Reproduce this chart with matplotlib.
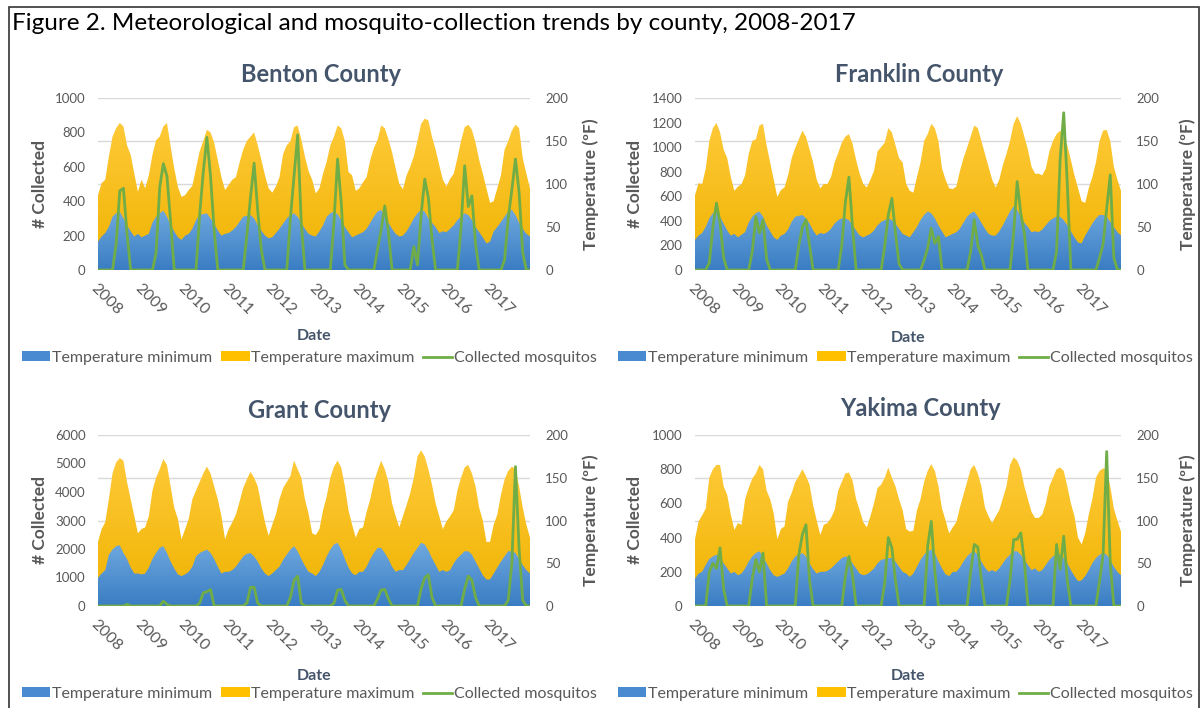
import numpy as np
import matplotlib
matplotlib.use('Agg')
import matplotlib.pyplot as plt
from matplotlib.colors import LinearSegmentedColormap
from matplotlib.patches import Patch, Rectangle
from matplotlib.lines import Line2D

plt.rcParams['font.family'] = ['Lato', 'DejaVu Sans']

years = list(range(2008, 2018))
year_labels = [str(y) for y in years]

# monthly values, Jan..Dec for 2008..2017 (temperatures on the right axis, counts on the left)
benton_tmin = [33, 39, 43, 50, 62, 66, 68, 60, 52, 45, 39, 42,
               38, 40, 42, 55, 62, 66, 69, 62, 52, 45, 38, 35,
               40, 42, 48, 58, 64, 65, 66, 60, 54, 46, 40, 42,
               43, 46, 50, 56, 62, 63, 64, 60, 52, 46, 40, 37,
               38, 43, 48, 54, 60, 64, 66, 62, 55, 48, 42, 40,
               39, 45, 52, 62, 66, 68, 65, 58, 50, 44, 38, 40,
               42, 44, 48, 55, 62, 68, 70, 62, 55, 48, 42, 39,
               40, 45, 52, 60, 66, 70, 68, 60, 55, 50, 43, 45,
               44, 48, 52, 58, 62, 66, 64, 58, 50, 44, 38, 31,
               33, 45, 50, 56, 62, 68, 70, 64, 55, 48, 42, 39]
benton_tmax = [87, 101, 105, 132, 155, 165, 171, 167, 145, 134, 112, 91,
               105, 95, 110, 134, 151, 155, 167, 171, 144, 118, 97, 85,
               87, 93, 98, 118, 138, 150, 163, 160, 148, 128, 108, 93,
               99, 105, 108, 125, 140, 150, 155, 160, 145, 128, 110, 95,
               90, 97, 108, 135, 145, 150, 166, 168, 152, 132, 115, 105,
               89, 95, 112, 126, 145, 155, 168, 165, 150, 114, 110, 92,
               95, 102, 108, 128, 142, 151, 168, 165, 152, 137, 118, 100,
               94, 110, 120, 132, 150, 170, 176, 174, 155, 140, 122, 105,
               97, 106, 112, 130, 150, 166, 169, 163, 148, 128, 112, 95,
               78, 80, 95, 110, 140, 150, 162, 169, 165, 130, 112, 95]
benton_mosq = [0, 0, 0, 0, 0, 150, 460, 475, 210, 0, 0, 0,
               0, 0, 0, 0, 100, 480, 618, 545, 280, 0, 0, 0,
               0, 0, 0, 0, 320, 570, 771, 545, 230, 0, 0, 0,
               0, 0, 0, 0, 0, 200, 420, 621, 345, 115, 0, 0,
               0, 0, 0, 0, 0, 300, 545, 786, 270, 0, 0, 0,
               0, 0, 0, 0, 0, 280, 645, 390, 30, 0, 0, 0,
               0, 0, 0, 0, 0, 120, 235, 373, 220, 0, 0, 0,
               0, 0, 0, 136, 30, 320, 528, 420, 180, 0, 0, 0,
               0, 0, 0, 0, 250, 606, 369, 431, 150, 0, 0, 0,
               0, 0, 0, 0, 60, 300, 466, 645, 450, 100, 0, 0]

franklin_tmin = [35, 40, 43, 50, 60, 66, 68, 62, 54, 46, 40, 42,
                 38, 41, 44, 55, 62, 66, 68, 62, 52, 45, 38, 35,
                 40, 42, 47, 56, 62, 63, 64, 60, 54, 46, 40, 43,
                 42, 44, 48, 54, 58, 60, 60, 58, 52, 46, 40, 38,
                 40, 42, 46, 52, 56, 58, 60, 58, 54, 48, 42, 40,
                 38, 44, 50, 58, 64, 68, 66, 60, 52, 45, 38, 40,
                 42, 44, 48, 55, 62, 66, 68, 62, 55, 48, 42, 40,
                 40, 45, 52, 60, 68, 74, 70, 62, 55, 50, 44, 45,
                 44, 47, 52, 57, 60, 62, 62, 58, 52, 45, 38, 32,
                 31, 40, 47, 54, 60, 64, 64, 62, 56, 50, 44, 40]
franklin_tmax = [87, 101, 100, 118, 150, 165, 171, 160, 140, 130, 108, 92,
                 97, 100, 110, 135, 150, 152, 168, 170, 145, 125, 105, 85,
                 93, 96, 110, 130, 142, 152, 162, 155, 140, 125, 105, 95,
                 100, 100, 108, 125, 136, 148, 155, 158, 147, 128, 112, 100,
                 96, 105, 115, 138, 143, 148, 165, 160, 145, 130, 125, 100,
                 92, 90, 108, 125, 150, 158, 170, 165, 150, 118, 105, 95,
                 94, 97, 115, 130, 142, 155, 168, 165, 150, 135, 120, 105,
                 96, 105, 122, 135, 150, 170, 179, 170, 155, 140, 120, 112,
                 112, 110, 118, 138, 150, 158, 162, 155, 145, 128, 110, 95,
                 80, 78, 95, 108, 125, 150, 162, 163, 150, 120, 105, 92]
franklin_mosq = [0, 0, 0, 0, 60, 350, 544, 380, 100, 0, 0, 0,
                 0, 0, 0, 0, 150, 435, 300, 408, 90, 0, 0, 0,
                 0, 0, 0, 0, 0, 200, 350, 408, 200, 0, 0, 0,
                 0, 0, 0, 0, 0, 200, 550, 756, 350, 0, 0, 0,
                 0, 0, 0, 0, 0, 200, 450, 584, 300, 50, 0, 0,
                 0, 0, 0, 0, 80, 180, 340, 217, 272, 0, 0, 0,
                 0, 0, 0, 0, 0, 150, 408, 200, 120, 0, 0, 0,
                 0, 0, 0, 0, 0, 300, 720, 460, 300, 0, 0, 0,
                 0, 0, 0, 0, 0, 150, 900, 1280, 700, 0, 0, 0,
                 0, 0, 0, 0, 0, 100, 210, 500, 775, 100, 0, 0]

grant_tmin = [33, 38, 42, 60, 66, 70, 71, 62, 55, 45, 38, 38,
              37, 38, 45, 55, 62, 68, 70, 62, 52, 44, 37, 35,
              37, 40, 46, 58, 62, 64, 66, 62, 55, 46, 38, 40,
              40, 42, 46, 52, 58, 61, 62, 58, 52, 44, 38, 35,
              38, 42, 46, 54, 60, 66, 70, 64, 55, 47, 40, 38,
              35, 40, 48, 58, 66, 72, 74, 66, 55, 45, 38, 36,
              40, 40, 46, 55, 62, 68, 68, 62, 55, 46, 40, 42,
              42, 48, 55, 62, 68, 74, 72, 65, 56, 48, 40, 42,
              40, 42, 50, 56, 60, 64, 64, 60, 52, 44, 36, 31,
              31, 38, 45, 52, 58, 64, 64, 62, 55, 48, 42, 38]
grant_tmax = [75, 90, 98, 125, 155, 168, 173, 170, 145, 125, 105, 85,
              90, 92, 105, 135, 150, 160, 172, 165, 140, 115, 102, 78,
              90, 102, 125, 135, 145, 155, 163, 155, 140, 125, 105, 78,
              90, 98, 107, 122, 138, 148, 157, 150, 140, 118, 98, 82,
              95, 107, 125, 138, 145, 152, 170, 160, 150, 125, 108, 85,
              83, 90, 112, 128, 150, 163, 170, 162, 140, 112, 95, 80,
              90, 92, 110, 125, 145, 158, 170, 160, 145, 120, 105, 92,
              105, 118, 132, 150, 175, 182, 175, 160, 142, 120, 105, 90,
              99, 105, 112, 135, 150, 162, 165, 155, 140, 115, 100, 75,
              75, 95, 107, 130, 148, 158, 163, 160, 140, 115, 95, 80]
grant_mosq = [0, 0, 0, 0, 0, 0, 0, 0, 60, 0, 0, 0,
              0, 0, 0, 0, 0, 0, 170, 60, 0, 0, 0, 0,
              0, 0, 0, 0, 100, 466, 500, 580, 0, 0, 0, 0,
              0, 0, 0, 0, 0, 100, 650, 660, 100, 0, 0, 0,
              0, 0, 0, 0, 0, 300, 900, 1050, 100, 0, 0, 0,
              0, 0, 0, 0, 0, 100, 560, 580, 200, 0, 0, 0,
              0, 0, 0, 0, 0, 250, 560, 580, 250, 0, 0, 0,
              0, 0, 0, 0, 0, 600, 990, 1100, 300, 0, 0, 0,
              0, 0, 0, 0, 0, 600, 1050, 900, 300, 0, 0, 0,
              0, 0, 0, 0, 0, 200, 1500, 4890, 2000, 200, 0, 0]

yakima_tmin = [32, 38, 40, 48, 55, 58, 60, 56, 50, 44, 38, 40,
               36, 38, 44, 52, 58, 62, 64, 58, 50, 42, 36, 34,
               36, 38, 44, 52, 58, 60, 62, 58, 50, 43, 38, 40,
               40, 41, 44, 48, 52, 56, 58, 56, 50, 44, 38, 36,
               37, 40, 44, 50, 54, 55, 56, 56, 52, 46, 40, 38,
               34, 38, 46, 54, 60, 64, 66, 62, 52, 44, 37, 35,
               40, 40, 45, 52, 58, 62, 64, 60, 52, 45, 40, 42,
               40, 44, 50, 56, 60, 64, 64, 60, 54, 48, 42, 44,
               40, 42, 48, 54, 58, 60, 60, 56, 50, 42, 35, 29,
               30, 35, 42, 50, 56, 60, 62, 60, 54, 46, 40, 36]
yakima_tmax = [78, 99, 106, 114, 150, 160, 165, 165, 140, 130, 107, 89,
               97, 95, 125, 138, 149, 155, 165, 160, 135, 125, 108, 78,
               90, 93, 122, 132, 145, 152, 160, 152, 142, 118, 100, 83,
               95, 97, 103, 112, 135, 145, 155, 156, 147, 125, 112, 98,
               92, 105, 120, 138, 142, 150, 162, 150, 140, 125, 112, 90,
               87, 88, 112, 125, 145, 158, 166, 158, 140, 114, 100, 85,
               92, 98, 115, 130, 145, 160, 165, 155, 140, 115, 105, 97,
               105, 112, 126, 140, 165, 174, 170, 160, 140, 125, 110, 103,
               103, 107, 120, 140, 150, 160, 162, 158, 140, 120, 105, 80,
               72, 85, 107, 125, 150, 158, 161, 160, 140, 114, 100, 87]
yakima_mosq = [0, 0, 0, 0, 200, 250, 220, 340, 100, 0, 0, 0,
               0, 0, 0, 0, 160, 272, 200, 310, 0, 0, 0, 0,
               0, 0, 0, 0, 0, 300, 418, 475, 150, 0, 0, 0,
               0, 0, 0, 0, 0, 0, 175, 290, 180, 0, 0, 0,
               0, 0, 0, 0, 0, 136, 400, 340, 150, 0, 0, 0,
               0, 0, 0, 0, 0, 350, 495, 200, 0, 0, 0, 0,
               0, 0, 0, 0, 0, 200, 360, 345, 150, 0, 0, 0,
               0, 0, 0, 0, 150, 388, 390, 427, 262, 0, 0, 0,
               0, 0, 0, 0, 0, 360, 214, 408, 150, 0, 0, 0,
               0, 0, 0, 0, 0, 145, 300, 903, 250, 0, 0, 0]

W, H = 1201, 708
TXT = '#595959'
SLATE = '#44546a'
GREEN = '#70ad47'


def px(x0, y0, x1, y1):
    # pixel box (top-left origin) -> figure rect
    return [x0 / W, 1 - y1 / H, (x1 - x0) / W, (y1 - y0) / H]


def gradient_area(ax, x, y, c_top, c_bot, z):
    poly = ax.fill_between(x, 0, y, facecolor='none', edgecolor='none', zorder=z)
    cmap = LinearSegmentedColormap.from_list('g', [c_bot, c_top])
    grad = np.linspace(0, 1, 256).reshape(-1, 1)
    im = ax.imshow(grad, cmap=cmap, origin='lower', aspect='auto',
                   extent=[x[0], x[-1], 0, max(y)], zorder=z, interpolation='bilinear')
    im.set_clip_path(poly.get_paths()[0], transform=ax.transData)


def panel(fig, box, title, tmin, tmax, mosq, cmax, cstep, date_y, legend_xy, ylab_x, title_xy):
    x = 2008 + np.arange(len(tmin)) / 12.0
    ax = fig.add_axes(px(*box))
    axt = ax.twinx()
    ax.set_zorder(axt.get_zorder() + 1)
    ax.patch.set_visible(False)

    gradient_area(axt, x, tmax, '#ffca3a', '#efb300', 2)
    gradient_area(axt, x, tmin, '#6fa9df', '#3a7dc3', 3)
    axt.set_xlim(x[0], x[-1])
    axt.set_ylim(0, 200)
    axt.set_yticks(range(0, 201, 50))
    axt.grid(axis='y', color='#d9d9d9', lw=1)
    axt.set_axisbelow(True)

    ax.plot(x, mosq, color=GREEN, lw=2.0, solid_joinstyle='round')
    ax.set_xlim(x[0], x[-1])
    ax.set_ylim(0, cmax)
    ax.set_yticks(range(0, cmax + 1, cstep))
    ax.set_xticks(years)
    ax.set_xticklabels(year_labels, rotation=-45, ha='left', va='top',
                       rotation_mode='anchor', color=TXT)

    for a in (ax, axt):
        for s in a.spines.values():
            s.set_visible(False)
        a.tick_params(length=0, labelsize=9.5, labelcolor=TXT)
    ax.tick_params(axis='y', pad=9)
    ax.tick_params(axis='x', pad=8, labelsize=11.5)
    axt.tick_params(axis='y', pad=11)

    bw = box[2] - box[0]
    bh = box[3] - box[1]
    ax.set_ylabel('# Collected', fontsize=12.5, fontweight='bold', color=TXT)
    axt.set_ylabel('Temperature (ºF)', fontsize=12.5, fontweight='bold', color=TXT)
    ax.yaxis.set_label_coords((ylab_x[0] - box[0]) / bw, 0.5)
    axt.yaxis.set_label_coords((ylab_x[1] - box[0]) / bw, 0.5)

    ax.set_xlabel('Date', fontsize=11.5, fontweight='bold', color=SLATE)
    ax.xaxis.set_label_coords(0.5, -(date_y - box[3]) / bh)

    fig.text(title_xy[0] / W, 1 - title_xy[1] / H, title, ha='center', va='center',
             fontsize=17, fontweight='bold', color=SLATE)

    handles = [Patch(facecolor='#4a8ad0', edgecolor='none'),
               Patch(facecolor='#ffc000', edgecolor='none'),
               Line2D([], [], color=GREEN, lw=2)]
    labels = ['Temperature minimum', 'Temperature maximum', 'Collected mosquitos']
    fig.legend(handles, labels, loc='center', ncol=3, frameon=False,
               bbox_to_anchor=(legend_xy[0] / W, 1 - legend_xy[1] / H),
               fontsize=11.5, labelcolor=TXT, handlelength=1.8, handleheight=0.6,
               handletextpad=0.1, columnspacing=0.55, borderpad=0.1)


fig = plt.figure(figsize=(W / 100, H / 100), dpi=100)

panel(fig, (98, 98, 530, 270), 'Benton County', benton_tmin, benton_tmax, benton_mosq,
      1000, 200, 329, (309, 358), (48, 582), (321, 75))
panel(fig, (695, 98, 1121, 270), 'Franklin County', franklin_tmin, franklin_tmax, franklin_mosq,
      1400, 200, 331, (905, 358), (643, 1179), (919, 75))
panel(fig, (98, 435, 530, 606), 'Grant County', grant_tmin, grant_tmax, grant_mosq,
      6000, 1000, 669, (309, 694), (48, 582), (320, 411))
panel(fig, (695, 435, 1121, 606), 'Yakima County', yakima_tmin, yakima_tmax, yakima_mosq,
      1000, 200, 669, (905, 694), (643, 1179), (920, 408))

fig.text(12 / W, 1 - 24 / H, 'Figure 2. Meteorological and mosquito-collection trends by county, 2008-2017',
         fontsize=17.5, color='black', va='center', ha='left')

fig.patches.append(Rectangle((9 / W, -0.01), 1190 / W, 1.01 - 7 / H, transform=fig.transFigure,
                             fill=False, edgecolor='#333333', lw=1.2))

fig.savefig('out.png', dpi=100)
